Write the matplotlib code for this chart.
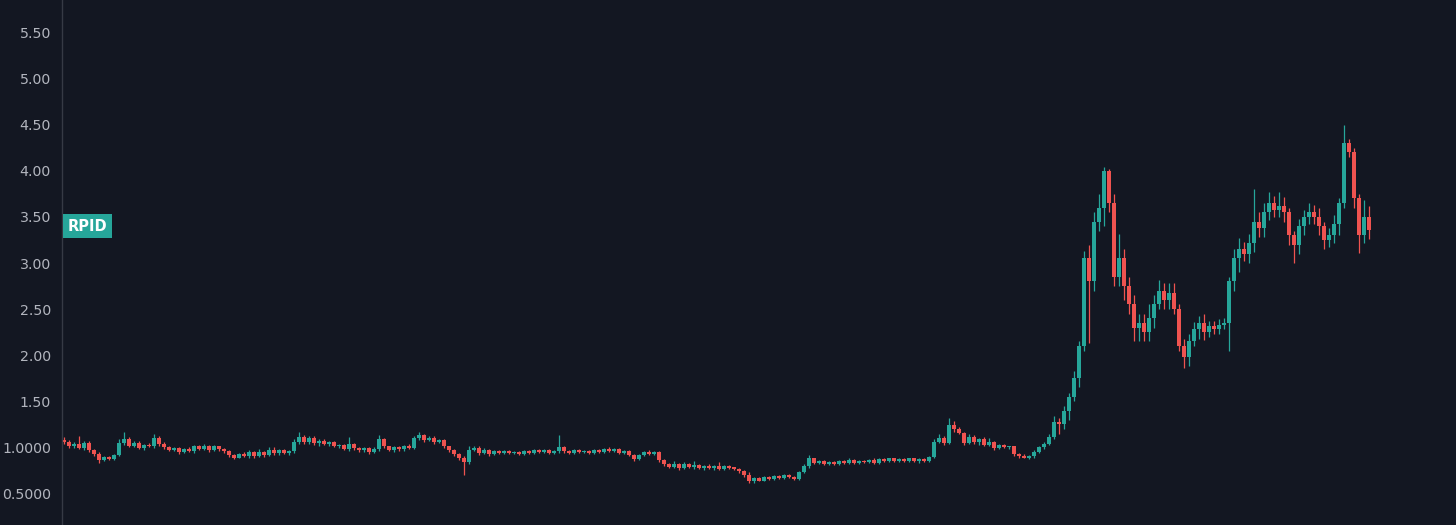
import numpy as np
import matplotlib
matplotlib.use("Agg")
import matplotlib.pyplot as plt

# closing prices, one per candle (left to right)
closes = [
    1.06, 1.01, 1.04, 0.99, 1.05, 0.97, 0.93, 0.86, 0.90, 0.87,
    0.92, 1.05, 1.09, 1.02, 1.05, 0.99, 1.03, 1.01, 1.10, 1.04,
    1.00, 0.97, 0.99, 0.95, 0.98, 0.96, 1.01, 0.98, 1.02, 0.97,
    1.01, 0.98, 0.96, 0.92, 0.89, 0.93, 0.91, 0.95, 0.91, 0.95,
    0.92, 0.97, 0.94, 0.97, 0.94, 0.96, 1.06, 1.11, 1.06, 1.10,
    1.05, 1.07, 1.04, 1.06, 1.01, 1.03, 0.98, 1.04, 0.99, 0.97,
    0.99, 0.95, 0.98, 1.09, 1.01, 0.97, 1.00, 0.98, 1.02, 0.99,
    1.10, 1.13, 1.08, 1.10, 1.06, 1.08, 1.01, 0.97, 0.93, 0.89,
    0.84, 0.97, 0.99, 0.94, 0.97, 0.93, 0.96, 0.94, 0.96, 0.94,
    0.95, 0.93, 0.96, 0.94, 0.97, 0.95, 0.97, 0.94, 0.96, 1.00,
    0.96, 0.94, 0.97, 0.95, 0.96, 0.94, 0.97, 0.95, 0.98, 0.96,
    0.98, 0.94, 0.96, 0.92, 0.87, 0.92, 0.95, 0.93, 0.95, 0.86,
    0.82, 0.79, 0.82, 0.78, 0.82, 0.79, 0.81, 0.78, 0.80, 0.78,
    0.80, 0.77, 0.80, 0.78, 0.77, 0.74, 0.70, 0.63, 0.67, 0.64,
    0.68, 0.66, 0.69, 0.67, 0.70, 0.68, 0.66, 0.73, 0.80, 0.88,
    0.83, 0.85, 0.82, 0.84, 0.82, 0.85, 0.83, 0.86, 0.83, 0.85,
    0.84, 0.86, 0.83, 0.87, 0.85, 0.88, 0.85, 0.87, 0.85, 0.88,
    0.85, 0.87, 0.85, 0.90, 1.06, 1.10, 1.05, 1.24, 1.20, 1.16,
    1.05, 1.11, 1.06, 1.09, 1.03, 1.06, 0.99, 1.03, 1.00, 1.01,
    0.93, 0.91, 0.89, 0.91, 0.95, 1.00, 1.04, 1.11, 1.28, 1.25,
    1.40, 1.55, 1.75, 2.10, 3.05, 2.80, 3.45, 3.60, 4.00, 3.65,
    2.85, 3.05, 2.75, 2.55, 2.30, 2.35, 2.25, 2.40, 2.55, 2.70,
    2.60, 2.68, 2.50, 2.10, 1.98, 2.15, 2.28, 2.35, 2.25, 2.32,
    2.28, 2.33, 2.35, 2.80, 3.05, 3.15, 3.10, 3.22, 3.45, 3.38,
    3.55, 3.65, 3.58, 3.62, 3.55, 3.30, 3.20, 3.40, 3.50, 3.55,
    3.50, 3.40, 3.25, 3.30, 3.42, 3.65, 4.30, 4.20, 3.70, 3.30,
    3.50, 3.36,
]

# wick lengths above / below the body
upper_wick = [
    .03, .02, .02, .08, .02, .02, .01, .02, .01, .01,
    .01, .04, .08, .02, .02, .02, .01, .02, .05, .02,
    .02, .01, .01, .01, .01, .02, .02, .02, .02, .01,
    .02, .01, .01, .01, .01, .01, .02, .02, .01, .03,
    .01, .03, .03, .01, .01, .01, .03, .06, .02, .02,
    .02, .02, .02, .01, .01, .01, .01, .07, .01, .01,
    .01, .01, .02, .04, .01, .01, .02, .02, .01, .02,
    .02, .04, .02, .02, .02, .01, .01, .01, .01, .01,
    .02, .05, .02, .02, .02, .01, .01, .01, .01, .01,
    .01, .01, .01, .01, .01, .01, .01, .01, .01, .13,
    .02, .01, .01, .01, .01, .01, .01, .01, .01, .02,
    .01, .01, .01, .01, .01, .01, .01, .02, .01, .01,
    .01, .01, .03, .01, .02, .01, .04, .01, .01, .02,
    .01, .04, .01, .01, .01, .01, .01, .03, .01, .01,
    .01, .01, .01, .01, .01, .01, .01, .01, .02, .04,
    .01, .01, .01, .01, .01, .01, .01, .02, .01, .01,
    .01, .01, .02, .01, .01, .01, .01, .01, .01, .01,
    .01, .01, .01, .01, .03, .05, .02, .08, .05, .02,
    .01, .03, .02, .01, .02, .04, .01, .01, .01, .01,
    .01, .01, .02, .01, .02, .01, .02, .03, .06, .04,
    .05, .04, .08, .05, .08, .15, .10, .15, .04, .02,
    .10, .27, .10, .10, .10, .10, .10, .15, .10, .12,
    .08, .10, .10, .05, .08, .08, .08, .08, .10, .05,
    .05, .06, .05, .05, .10, .12, .08, .10, .35, .10,
    .10, .12, .08, .15, .10, .05, .05, .08, .08, .10,
    .08, .10, .05, .08, .10, .05, .20, .05, .05, .05,
    .18, .12,
]
lower_wick = [
    .02, .02, .02, .01, .02, .02, .02, .03, .01, .01,
    .01, .01, .02, .02, .02, .01, .02, .01, .02, .02,
    .02, .01, .01, .02, .01, .01, .02, .01, .01, .02,
    .01, .02, .02, .02, .02, .01, .01, .02, .02, .01,
    .02, .01, .02, .02, .01, .02, .02, .02, .02, .02,
    .02, .03, .01, .02, .01, .02, .01, .02, .02, .02,
    .02, .02, .01, .02, .02, .01, .02, .02, .02, .01,
    .01, .02, .02, .01, .02, .01, .02, .02, .02, .03,
    .14, .02, .01, .02, .01, .02, .01, .01, .01, .01,
    .01, .01, .01, .01, .01, .01, .01, .01, .01, .02,
    .02, .01, .01, .01, .01, .01, .01, .01, .01, .01,
    .01, .01, .01, .01, .02, .01, .01, .01, .01, .02,
    .02, .01, .01, .02, .01, .01, .02, .01, .02, .01,
    .02, .01, .02, .01, .02, .02, .02, .02, .02, .01,
    .01, .01, .01, .01, .01, .01, .01, .01, .01, .02,
    .01, .01, .01, .01, .01, .01, .01, .01, .01, .01,
    .01, .01, .01, .01, .01, .01, .01, .01, .01, .01,
    .01, .02, .01, .01, .01, .01, .02, .01, .03, .02,
    .02, .01, .02, .03, .01, .02, .02, .01, .01, .02,
    .02, .02, .01, .02, .02, .01, .02, .01, .02, .10,
    .05, .10, .05, .10, .05, .67, .10, .10, .20, .10,
    .10, .10, .15, .10, .15, .15, .10, .10, .10, .05,
    .10, .10, .05, .05, .12, .10, .05, .10, .08, .05,
    .05, .05, .05, .30, .10, .15, .08, .10, .10, .10,
    .10, .08, .08, .08, .10, .10, .20, .10, .10, .08,
    .08, .10, .10, .08, .08, .12, .05, .05, .10, .19,
    .08, .10,
]
first_open = 1.08

tick_values = [0.5, 1.0, 1.5, 2.0, 2.5, 3.0, 3.5, 4.0, 4.5, 5.0, 5.5]
tick_labels = ["0.5000", "1.0000", "1.50", "2.00", "2.50", "3.00",
               "3.50", "4.00", "4.50", "5.00", "5.50"]
ticker_name = "RPID"
ticker_level = 3.40

bg = "#131722"
up_col = "#26a69a"
down_col = "#ef5350"
text_col = "#b2b5be"

closes = np.array(closes)
opens = np.concatenate([[first_open], closes[:-1]])
tops = np.maximum(opens, closes)
bottoms = np.minimum(opens, closes)
highs = tops + np.array(upper_wick)
lows = bottoms - np.array(lower_wick)
x = np.arange(len(closes))
colors = np.where(closes >= opens, up_col, down_col)

fig = plt.figure(figsize=(14.56, 5.25), dpi=100, facecolor=bg)
ax = fig.add_axes([62 / 1456, 0, 1 - 62 / 1456, 1])
ax.set_facecolor(bg)

ax.vlines(x, lows, highs, colors=colors, linewidth=0.9)
ax.bar(x, np.maximum(tops - bottoms, 0.012), bottom=bottoms, width=0.7,
       color=colors, linewidth=0)

ax.set_xlim(-0.4, 278.4)
ax.set_ylim(0.158, 5.853)
ax.set_xticks([])
ax.set_yticks(tick_values)
ax.set_yticklabels(tick_labels)
ax.tick_params(axis="y", length=0, pad=8, labelsize=10.2, labelcolor=text_col)

for side in ["top", "right", "bottom"]:
    ax.spines[side].set_visible(False)
ax.spines["left"].set_color("#363a45")
ax.spines["left"].set_linewidth(1)

ax.text(0.004, ticker_level, ticker_name, transform=ax.get_yaxis_transform(),
        ha="left", va="center", color="white", fontsize=10.5, fontweight="bold",
        bbox=dict(boxstyle="square,pad=0.3", facecolor=up_col, edgecolor="none"))

fig.savefig("out.png", dpi=100, facecolor=bg)
